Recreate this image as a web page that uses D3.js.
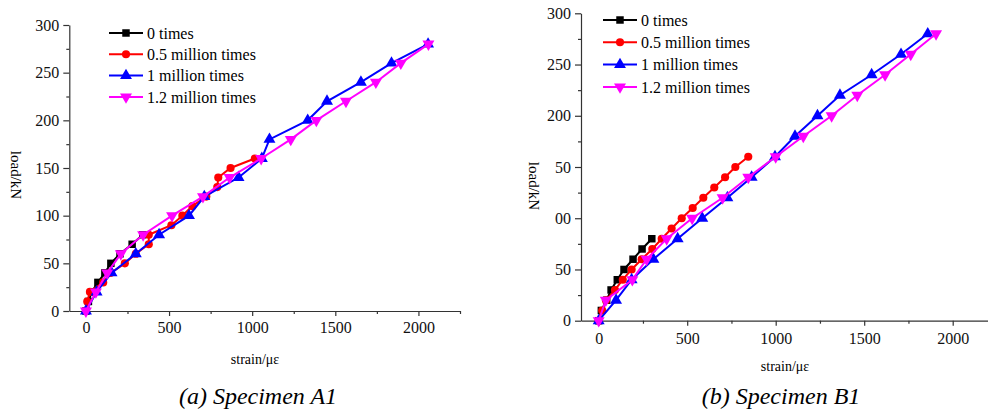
<!DOCTYPE html>
<html>
<head>
<meta charset="utf-8">
<script src="https://cdn.jsdelivr.net/npm/d3@7"></script>
<style>
  body { margin: 0; background: #fff; }
  .axis path, .axis line { stroke: #333; stroke-width: 1.2; }
</style>
</head>
<body>
<div id="chart"></div>
<script>
// series as [strain, load]
const seriesNames = ["0 times", "0.5 million times", "1 million times", "1.2 million times"];

const a1Zero = [[0, 0], [15, 10], [35, 20], [72, 30], [114, 40], [150, 50], [205, 60], [278, 70], [342, 80]];
const a1Half = [[0, 0], [8, 10], [24, 20], [104, 30], [150, 40], [234, 50], [300, 60], [378, 70], [378, 80],
    [514, 90], [580, 100], [640, 110], [724, 120], [790, 130], [796, 140], [870, 150], [1016, 160]];
const a1One = [[0, 0], [64, 20], [154, 40], [300, 60], [440, 80], [620, 100], [712, 120], [918, 140],
    [1058, 160], [1104, 180], [1334, 200], [1450, 220], [1654, 240], [1838, 260], [2058, 280]];
const a1OneTwo = [[0, 0], [60, 20], [128, 40], [210, 60], [344, 80], [518, 100], [704, 120], [864, 140],
    [1054, 160], [1232, 180], [1386, 200], [1564, 220], [1744, 240], [1894, 260], [2060, 280]];

const b1Zero = [[0, 0], [15, 10], [45, 20], [70, 30], [105, 40], [143, 50], [194, 60], [245, 70], [300, 80]];
const b1Half = [[0, 0], [20, 10], [41, 20], [92, 30], [136, 40], [186, 50], [243, 60], [303, 70], [356, 80],
    [412, 90], [469, 100], [531, 110], [591, 120], [653, 130], [714, 140], [772, 150], [845, 160]];
const b1One = [[0, 0], [98, 20], [186, 40], [309, 60], [446, 80], [585, 100], [727, 120], [864, 140],
    [996, 160], [1109, 180], [1236, 200], [1363, 220], [1542, 240], [1708, 260], [1859, 280]];
const b1OneTwo = [[0, 0], [40, 20], [190, 40], [271, 60], [384, 80], [528, 100], [700, 120], [845, 140],
    [1000, 160], [1156, 180], [1316, 200], [1461, 220], [1618, 240], [1763, 260], [1906, 280]];

const xTicks = [0, 500, 1000, 1500, 2000];
const xMinor = [250, 750, 1250, 1750, 2250];
const yTicks = [0, 50, 100, 150, 200, 250, 300];
const yMinor = [25, 75, 125, 175, 225, 275];
const leftYLabels = ["0", "50", "100", "150", "200", "250", "300"];
const rightYLabels = ["0", "50", "00", "50", "200", "250", "300"];

const colors = ["#000000", "#ff0000", "#0000ff", "#ff00ff"];
const symbols = [d3.symbolSquare, d3.symbolCircle, d3.symbolTriangle, d3.symbolTriangle];
const symbolSizes = [56, 52, 62, 62];

const serif = "Liberation Serif";

const svg = d3.select("#chart")
    .append("svg")
    .attr("width", 988)
    .attr("height", 411);

function drawPanel(p) {
    const x = d3.scaleLinear().domain([-100, 2250]).range(p.xRange);
    const y = d3.scaleLinear().domain([0, 300]).range(p.yRange);
    const g = svg.append("g");

    const fixText = a => a.attr("font-family", null).selectAll("text")
        .style("font-family", serif).attr("font-size", 16).attr("fill", "#111");

    g.append("g")
        .attr("class", "axis")
        .attr("transform", `translate(0,${p.yRange[0]})`)
        .call(d3.axisBottom(x).tickValues(xTicks).tickSize(5).tickSizeOuter(0).tickPadding(p.xPad)
            .tickFormat(d3.format("d")))
        .call(fixText);
    g.append("g")
        .attr("class", "axis")
        .attr("transform", `translate(0,${p.yRange[0]})`)
        .call(d3.axisBottom(x).tickValues(xMinor).tickSize(3).tickFormat(""))
        .call(a => a.select(".domain").remove());

    g.append("g")
        .attr("class", "axis")
        .attr("transform", `translate(${x(-100)},0)`)
        .call(d3.axisLeft(y).tickValues(yTicks).tickSize(6).tickSizeOuter(0).tickPadding(4)
            .tickFormat((d, i) => p.yLabels[i]))
        .call(fixText);
    g.append("g")
        .attr("class", "axis")
        .attr("transform", `translate(${x(-100)},0)`)
        .call(d3.axisLeft(y).tickValues(yMinor).tickSize(3).tickFormat(""))
        .call(a => a.select(".domain").remove());

    const line = d3.line().x(d => x(d[0])).y(d => y(d[1]));

    p.series.forEach((s, i) => {
        g.append("path")
            .datum(s)
            .attr("fill", "none")
            .attr("stroke", colors[i])
            .attr("stroke-width", 2)
            .attr("d", line);
        g.selectAll(null)
            .data(s)
            .enter().append("path")
            .attr("transform", d => `translate(${x(d[0])},${y(d[1])})` + (i === 3 ? " rotate(180)" : ""))
            .attr("d", d3.symbol().type(symbols[i]).size(symbolSizes[i]))
            .attr("fill", colors[i]);
    });

    // legend
    const lg = g.append("g");
    seriesNames.forEach((name, i) => {
        const ly = p.legend.y + i * p.legend.step;
        lg.append("line")
            .attr("x1", p.legend.x).attr("x2", p.legend.x + 34)
            .attr("y1", ly).attr("y2", ly)
            .attr("stroke", colors[i]).attr("stroke-width", 2);
        lg.append("path")
            .attr("transform", `translate(${p.legend.x + 17},${ly})` + (i === 3 ? " rotate(180)" : ""))
            .attr("d", d3.symbol().type(symbols[i]).size(symbolSizes[i]))
            .attr("fill", colors[i]);
        lg.append("text")
            .attr("x", p.legend.x + 38)
            .attr("y", ly)
            .attr("dy", "0.35em")
            .style("font-family", serif)
            .attr("font-size", 16)
            .text(name);
    });

    g.append("text")
        .attr("transform", `translate(${p.yTitle[0]},${p.yTitle[1]}) rotate(90)`)
        .attr("text-anchor", "middle")
        .attr("dy", "0.35em")
        .style("font-family", serif)
        .attr("font-size", 15)
        .text("load/kN");

    g.append("text")
        .attr("x", p.xTitle[0]).attr("y", p.xTitle[1])
        .attr("text-anchor", "middle")
        .style("font-family", serif)
        .attr("font-size", 14)
        .text("strain/με");

    g.append("text")
        .attr("x", p.caption[0]).attr("y", p.caption[1])
        .attr("text-anchor", "middle")
        .style("font-family", serif)
        .attr("font-size", 24)
        .attr("font-style", "italic")
        .text(p.captionText);
}

drawPanel({
    xRange: [69.3, 460],
    yRange: [311, 25],
    xPad: 6,
    yLabels: leftYLabels,
    series: [a1Zero, a1Half, a1One, a1OneTwo],
    legend: { x: 109, y: 33, step: 21.3 },
    yTitle: [16, 175],
    xTitle: [255, 364],
    caption: [258, 404],
    captionText: "(a) Specimen A1"
});

drawPanel({
    xRange: [581, 581 + 2350 * 0.177],
    yRange: [320.7, 13.3],
    xPad: 7,
    yLabels: rightYLabels,
    series: [b1Zero, b1Half, b1One, b1OneTwo],
    legend: { x: 603, y: 20, step: 22.3 },
    yTitle: [534, 186],
    xTitle: [785, 371],
    caption: [781, 404],
    captionText: "(b) Specimen B1"
});
</script>
</body>
</html>
